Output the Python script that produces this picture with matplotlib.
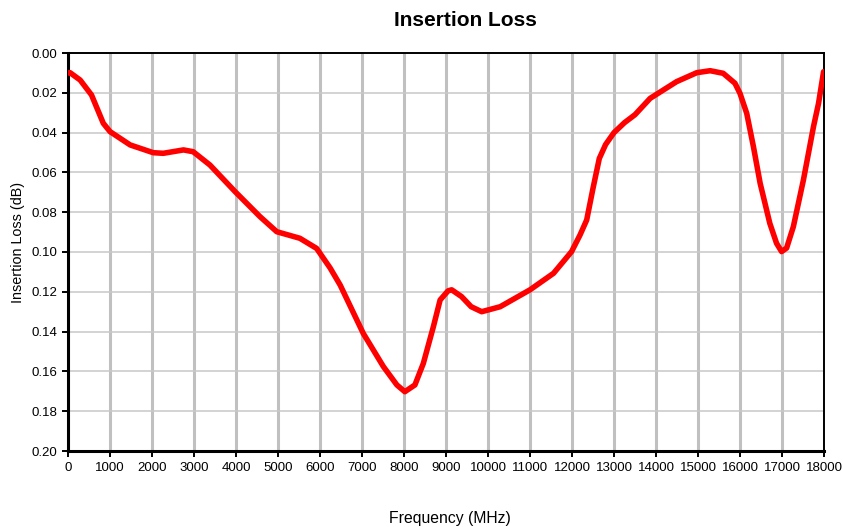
import matplotlib
matplotlib.use("Agg")
import matplotlib.pyplot as plt
from matplotlib.ticker import FormatStrFormatter

plt.rcParams['font.family'] = ['Liberation Sans', 'DejaVu Sans']

# values
freq = [0, 50, 290, 560, 840, 1000, 1480, 2030, 2270, 2750, 2980, 3380,
        3980, 4570, 4970, 5520, 5920, 6240, 6480, 7030, 7510, 7830, 8020,
        8260, 8460, 8700, 8860, 9050, 9135, 9370, 9600, 9850, 10290, 11000,
        11560, 11990, 12190, 12350, 12500, 12650, 12800, 13000, 13250, 13500,
        13860, 14490, 14970, 15290, 15600, 15880, 16000, 16160, 16320, 16480,
        16710, 16870, 16990, 17110, 17270, 17510, 17750, 17870, 17990]
loss = [0.010, 0.0099, 0.0136, 0.0211, 0.0353, 0.0395, 0.0462, 0.0501,
        0.0504, 0.0487, 0.0496, 0.0563, 0.0697, 0.0822, 0.0898, 0.0931,
        0.0982, 0.108, 0.1166, 0.1409, 0.1576, 0.1668, 0.1702, 0.1668,
        0.156, 0.1375, 0.1241, 0.1195, 0.119, 0.1224, 0.1275, 0.130, 0.1275,
        0.119, 0.1107, 0.0998, 0.0915, 0.0839, 0.068, 0.053, 0.046, 0.040,
        0.035, 0.031, 0.0228, 0.0144, 0.0099, 0.0089, 0.0102, 0.0152, 0.0203,
        0.0303, 0.0471, 0.0655, 0.0856, 0.0956, 0.0998, 0.098, 0.0873,
        0.0638, 0.037, 0.0253, 0.0094]

xticks = list(range(0, 18001, 1000))
yticks = [0.00, 0.02, 0.04, 0.06, 0.08, 0.10, 0.12, 0.14, 0.16, 0.18, 0.20]

W, H = 843, 527
fig = plt.figure(figsize=(W / 100, H / 100), dpi=100)
ax = fig.add_axes([68 / W, 1 - 451 / H, 756 / W, 398 / H])

for x in xticks:
    ax.axvline(x, color='#c0c0c0', lw=2.2, zorder=1)
for y in yticks:
    ax.axhline(y, color='#c8c8c8', lw=1.1, zorder=1)

ax.plot(freq, loss, color='#ff0000', lw=4, solid_capstyle='round',
        solid_joinstyle='round', zorder=3)

ax.set_xlim(0, 18000)
ax.set_ylim(0.20, 0.00)
ax.set_xticks(xticks)
ax.set_yticks(yticks)
ax.yaxis.set_major_formatter(FormatStrFormatter('%.2f'))
ax.tick_params(axis='both', labelsize=9.5, direction='out', length=4,
               width=1.4, colors='black', pad=4)

for side in ['left', 'bottom']:
    ax.spines[side].set_linewidth(2.2)
for side in ['top', 'right']:
    ax.spines[side].set_linewidth(1.4)

# text placed where the reference has it (not centred on the axes)
fig.text(465 / W, 1 - 20 / H, 'Insertion Loss', fontsize=15,
         fontweight='bold', ha='center', va='center')
fig.text(450 / W, 1 - 518 / H, 'Frequency (MHz)', fontsize=11.3,
         ha='center', va='center')
fig.text(18 / W, 1 - 242 / H, 'Insertion Loss (dB)', fontsize=10.4,
         rotation=90, ha='center', va='center')

fig.savefig('out.png', dpi=100)
